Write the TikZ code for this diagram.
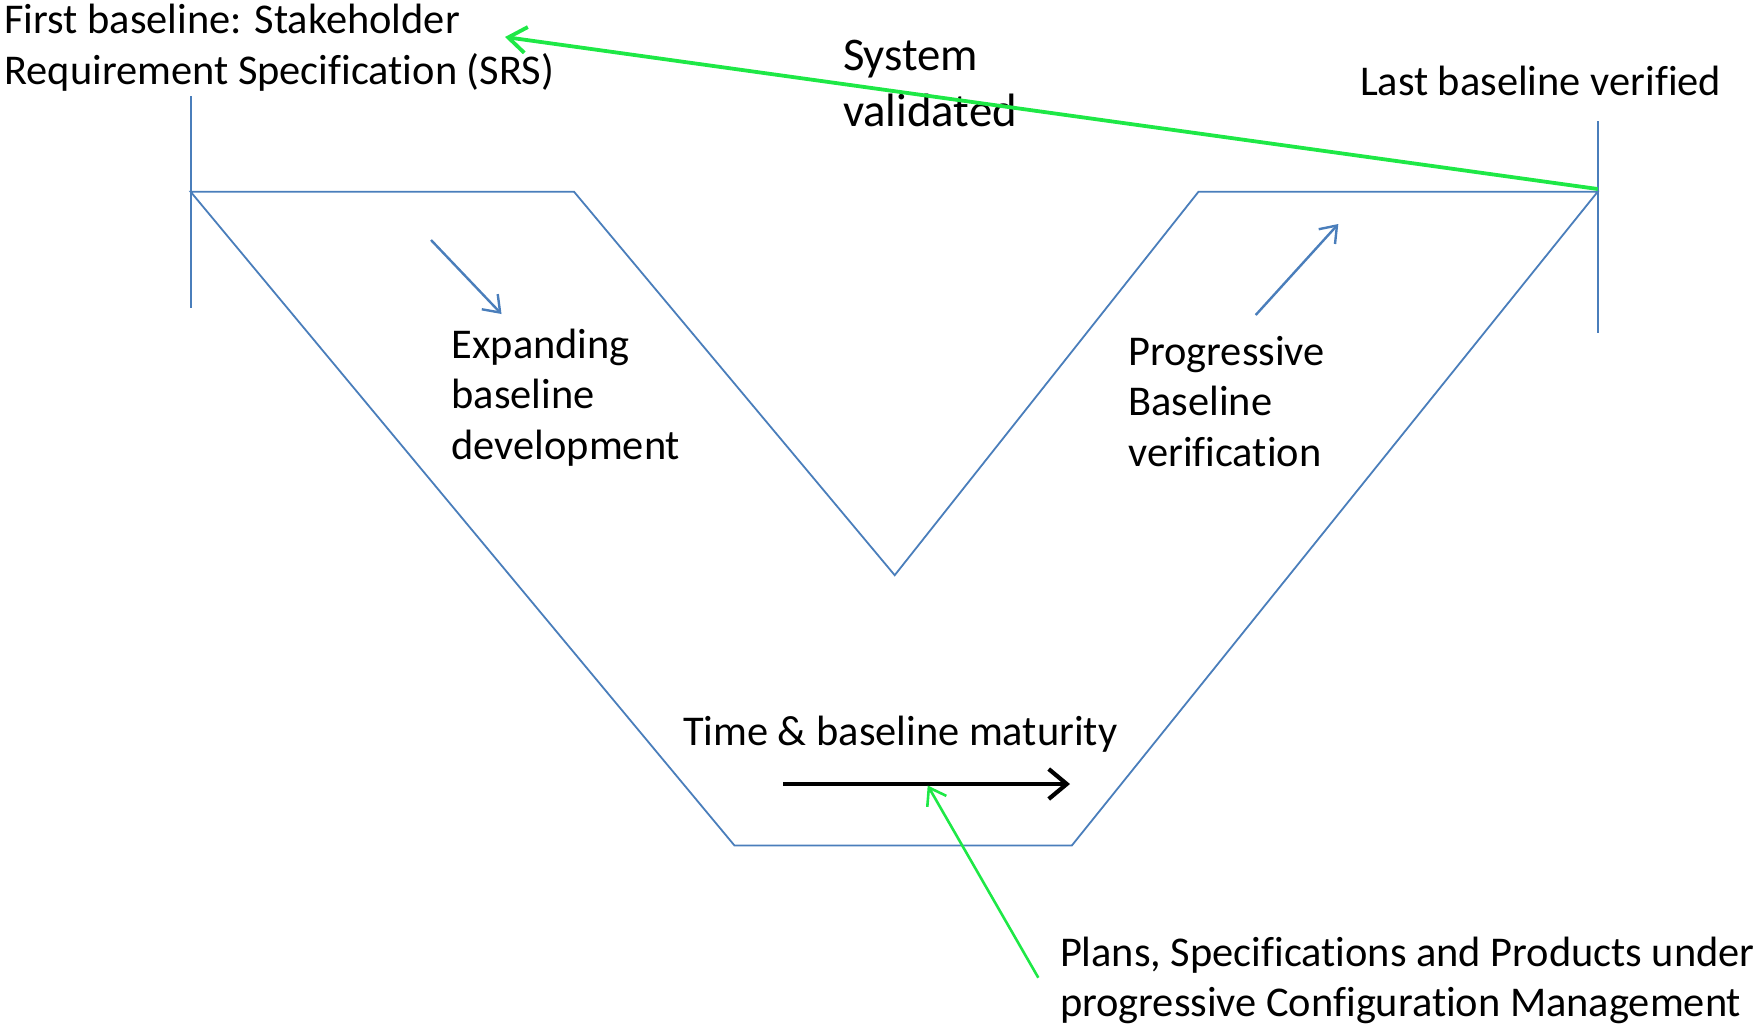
\documentclass[tikz,border=0pt]{standalone}
\usepackage{fontspec}
\setmainfont{Carlito}[Ligatures={NoCommon}]
\usetikzlibrary{arrows.meta}
\definecolor{vblue}{RGB}{74,126,187}
\definecolor{vgreen}{RGB}{30,232,70}
\begin{document}
\begin{tikzpicture}[x=1pt,y=-1pt,
  vline/.style={draw=vblue,line width=1.8pt},
  bluearrow/.style={draw=vblue,line width=2.4pt,-{Straight Barb[length=15pt,width=22pt,line width=2.4pt]}},
  greenarrow/.style={draw=vgreen,line width=2.6pt,-{Straight Barb[length=16pt,width=22pt,line width=2.6pt]}},
  topgreen/.style={draw=vgreen,line width=3.8pt,-{Straight Barb[length=18pt,width=26pt,line width=3.8pt]}},
  timearrow/.style={draw=black,line width=4.2pt,-{Straight Barb[length=18pt,width=30pt,line width=4.2pt]}},
  lbl/.style={inner sep=0pt,outer sep=0pt,anchor=base west,align=left,text=black,font=\fontsize{42.4}{50.6}\selectfont},
  biglbl/.style={lbl,font=\fontsize{46.8}{56}\selectfont}]
\useasboundingbox (0,0) rectangle (1758,1026);

% V outline
\coordinate (tl) at (190.6,191.7);
\coordinate (ib1) at (574,191.7);
\coordinate (iv) at (894.7,575.2);
\coordinate (ib2) at (1198.5,191.7);
\coordinate (tr) at (1597.7,191.7);
\coordinate (ob2) at (1071.9,845.4);
\coordinate (ob1) at (734.4,845.4);
\draw[vline,line join=miter] (tl) -- (ib1) -- (iv) -- (ib2) -- (tr) -- (ob2) -- (ob1) -- cycle;

% baseline markers
\coordinate (lmTop) at (190.6,96.4);
\coordinate (lmBot) at (190.6,308.3);
\coordinate (rmTop) at (1597.7,121);
\coordinate (rmBot) at (1597.7,333);
\draw[vline] (lmTop) -- (lmBot);
\draw[vline] (rmTop) -- (rmBot);

% labels (base anchor = baseline of the last line)
\node[lbl] (srs) at (4.5,84.1) {First baseline: Stakeholder\\Requirement Specification (SRS)};
\node[biglbl] (sysval) at (843,126) {System\\validated};
\node[lbl] (last) at (1360,95) {Last baseline verified};
\node[lbl] (expand) at (451.7,459.5) {Expanding\\baseline\\development};
\node[lbl] (prog) at (1128.3,466.2) {Progressive\\Baseline\\verification};
\node[lbl] (time) at (683,745.5) {Time \& baseline maturity};
\node[lbl] (plans) at (1060,1016.6) {Plans, Specifications and Products under\\progressive Configuration Management};

% arrows
\coordinate (eaS) at (431,240);
\coordinate (eaE) at (501.5,314);
\draw[bluearrow] (eaS) -- (eaE);
\coordinate (paS) at (1255.7,315);
\coordinate (paE) at (1338.3,224);
\draw[bluearrow] (paS) -- (paE);
\coordinate (taS) at (783,784);
\coordinate (taE) at (1070,784);
\draw[timearrow] (taS) -- (taE);
\coordinate (cmS) at (1038.3,977.7);
\coordinate (cmE) at (927.7,785.5);
\draw[greenarrow] (cmS) -- (cmE);
\coordinate (svS) at (1597.7,189);
\coordinate (svE) at (505,37);
\draw[topgreen] (svS) -- (svE);
\end{tikzpicture}
\end{document}
